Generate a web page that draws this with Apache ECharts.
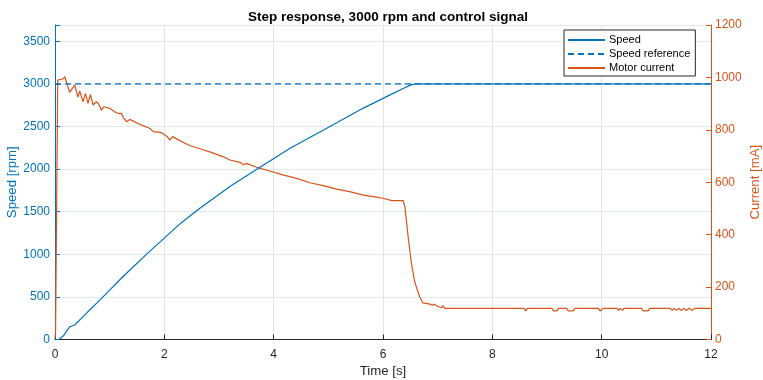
<!DOCTYPE html>
<html>
<head>
<meta charset="utf-8">
<script src="https://cdn.jsdelivr.net/npm/echarts@6/dist/echarts.min.js"></script>
<style>
html,body{margin:0;padding:0;background:#fff;}
#chart{width:763px;height:380px;}
</style>
</head>
<body>
<div id="chart"></div>
<script>
// ---- data ----
const speedT = [0, 0.07, 0.15, 0.27, 0.36, 0.5, 0.6, 0.8, 1.0, 1.2, 1.37, 1.6, 1.8, 2.0, 2.3, 2.65, 3.2, 3.75, 4.3, 5.03, 5.64, 6.13, 6.35, 6.5, 6.6, 7, 8, 9, 10, 11, 12];
const speedV = [0, 0, 40, 150, 170, 260, 325, 450, 580, 710, 815, 955, 1075, 1190, 1365, 1540, 1794, 2022, 2245, 2499, 2715, 2870, 2940, 2985, 3000, 3000, 3000, 3000, 3000, 3000, 3000];

const refT = [0, 12];
const refV = [3000, 3000];

const currentT = [0, 0.01, 0.05, 0.073, 0.146, 0.178, 0.22, 0.269, 0.36, 0.42, 0.452, 0.512, 0.556, 0.604, 0.648, 0.695, 0.758, 0.805, 0.849, 0.891, 1.0, 1.09, 1.15, 1.215, 1.25, 1.318, 1.367, 1.55, 1.73, 1.8, 1.95, 2.05, 2.1, 2.15, 2.44, 2.68, 2.86, 3.08, 3.2, 3.4, 3.44, 3.5, 3.69, 3.93, 4.17, 4.42, 4.66, 4.91, 5.15, 5.39, 5.64, 5.88, 6.0, 6.16, 6.37, 6.4, 6.46, 6.52, 6.58, 6.67, 6.73, 6.86, 6.9, 6.94, 6.98, 7.07, 7.1, 7.13, 8.58, 8.61, 8.64, 9.09, 9.12, 9.18, 9.21, 9.36, 9.39, 9.48, 9.51, 9.94, 9.97, 10.0, 10.03, 10.28, 10.31, 10.34, 10.38, 10.41, 10.73, 10.76, 10.85, 10.88, 11.25, 11.29, 11.33, 11.37, 11.41, 11.46, 11.5, 11.55, 11.6, 11.66, 11.7, 12];
const currentV = [0, 30, 990, 993, 994, 1003, 975, 943, 971, 925, 948, 907, 939, 901, 935, 895, 907, 897, 875, 888, 882, 869, 863, 863, 845, 831, 840, 821, 806, 793, 789, 775, 761, 774, 742, 726, 714, 697, 685, 675, 666, 672, 657, 643, 628, 615, 598, 587, 574, 564, 551, 543, 539, 530, 530, 507, 392, 291, 220, 163, 140, 135, 131, 135, 128, 121, 129, 119, 119, 109, 119, 119, 109, 109, 119, 119, 109, 109, 119, 119, 109, 109, 119, 119, 111, 119, 111, 119, 119, 109, 109, 119, 119, 111, 119, 111, 119, 111, 119, 111, 119, 111, 119, 119];

const xTicks = [0, 2, 4, 6, 8, 10, 12];
const speedTicks = [0, 500, 1000, 1500, 2000, 2500, 3000, 3500];
const currentTicks = [0, 200, 400, 600, 800, 1000, 1200];

const zip = (a, b) => a.map((v, i) => [v, b[i]]);

const BLUE = '#0072BD';
const ORANGE = '#D95319';
const DARK = '#262626';
const FONT = '"Liberation Sans", Arial, Helvetica, sans-serif';

const chart = echarts.init(document.getElementById('chart'), null, {renderer: 'canvas'});
chart.setOption({
  animation: false,
  backgroundColor: '#fff',
  title: {
    text: 'Step response, 3000 rpm and control signal',
    left: 383, top: 5, textAlign: 'center',
    textStyle: {fontFamily: FONT, fontSize: 13.5, fontWeight: 'bold', color: '#000'}
  },
  grid: {left: 55, right: 52, top: 25, bottom: 40.5, containLabel: false, outerBoundsMode: 'none'},
  legend: {
    orient: 'vertical', left: 564, top: 30,
    padding: [3, 5, 1, 3], itemGap: 0, itemWidth: 37, itemHeight: 14,
    backgroundColor: '#fff', borderColor: DARK, borderWidth: 1, borderRadius: 0,
    itemStyle: {opacity: 0},
    textStyle: {fontFamily: FONT, fontSize: 11, lineHeight: 14, height: 14, color: '#000', padding: [0, 0, 0, -1]},
    data: ['Speed', 'Speed reference', 'Motor current']
  },
  xAxis: {
    type: 'value', min: xTicks[0], max: xTicks[xTicks.length - 1], interval: 2,
    name: 'Time [s]', nameLocation: 'middle', nameGap: 25, nameMoveOverlap: false,
    nameTextStyle: {fontFamily: FONT, fontSize: 13.2, color: DARK},
    axisLine: {show: true, onZero: false, lineStyle: {color: DARK, width: 1}},
    axisTick: {show: true, inside: true, length: 5, lineStyle: {color: DARK}},
    axisLabel: {fontFamily: FONT, fontSize: 12, color: DARK, margin: 9},
    splitLine: {show: true, lineStyle: {color: '#E3E3E3', width: 1}}
  },
  yAxis: [
    {
      type: 'value', position: 'left', min: 0, max: 3690, interval: 500,
      name: 'Speed [rpm]', nameLocation: 'middle', nameGap: 36, nameMoveOverlap: false,
      nameTextStyle: {fontFamily: FONT, fontSize: 13.2, color: BLUE},
      axisLine: {show: true, onZero: false, lineStyle: {color: BLUE, width: 1}},
      axisTick: {show: true, inside: true, length: 5, lineStyle: {color: BLUE}},
      axisLabel: {
        fontFamily: FONT, fontSize: 12, color: BLUE, margin: 5,
        formatter: v => speedTicks.includes(v) ? String(v) : ''
      },
      splitLine: {show: true, lineStyle: {color: '#DCEAF5', width: 1}}
    },
    {
      type: 'value', position: 'right', min: 0, max: 1200, interval: 200,
      name: 'Current [mA]', nameLocation: 'middle', nameGap: 38, nameMoveOverlap: false,
      nameTextStyle: {fontFamily: FONT, fontSize: 13.2, color: ORANGE},
      axisLine: {show: true, onZero: false, lineStyle: {color: ORANGE, width: 1}},
      axisTick: {show: true, inside: true, length: 5, lineStyle: {color: ORANGE}},
      axisLabel: {fontFamily: FONT, fontSize: 12, color: ORANGE, margin: 4,
        formatter: v => currentTicks.includes(v) ? String(v) : ''},
      splitLine: {show: false}
    }
  ],
  series: [
    {
      name: 'Speed', type: 'line', yAxisIndex: 0, data: zip(speedT, speedV),
      showSymbol: false, symbol: 'none', color: BLUE,
      lineStyle: {color: BLUE, width: 1.2}, z: 3
    },
    {
      name: 'Speed reference', type: 'line', yAxisIndex: 0, data: zip(refT, refV),
      showSymbol: false, symbol: 'none', color: BLUE,
      lineStyle: {color: BLUE, width: 1.2, type: [6, 4]}, z: 3
    },
    {
      name: 'Motor current', type: 'line', yAxisIndex: 1, data: zip(currentT, currentV),
      showSymbol: false, symbol: 'none', color: ORANGE,
      lineStyle: {color: ORANGE, width: 1.2}, z: 2
    }
  ]
});
</script>
</body>
</html>
